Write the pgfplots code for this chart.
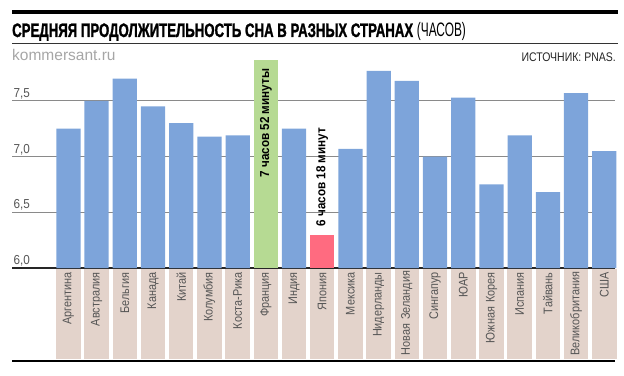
\documentclass[border=0pt]{standalone}
\usepackage{pgfplots}
\pgfplotsset{compat=1.18}
\usepackage{fontspec}
\setmainfont{Liberation Sans}
\newfontfamily\condfont[FakeStretch=0.61]{Liberation Sans}
\newfontfamily\srcfont[FakeStretch=0.84]{Liberation Sans}
\newfontfamily\heavycond[FakeStretch=0.677,FakeBold=1.2]{Liberation Sans Bold}
\newfontfamily\semicond[FakeStretch=0.9]{Liberation Sans}
\newfontfamily\labfont[FakeStretch=0.87]{Liberation Sans}
\definecolor{barblue}{HTML}{7DA4DA}
\definecolor{bargreen}{HTML}{B6DA93}
\definecolor{barred}{HTML}{FF6B80}
\definecolor{tan}{HTML}{E3D3CB}
\definecolor{gridgray}{HTML}{8A8A8A}
\definecolor{labgray}{HTML}{555555}
\pgfplotstableread{
x y
0 7.25
1 7.50
2 7.70
3 7.45
4 7.30
5 7.18
6 7.19
8 7.25
10 7.07
11 7.77
12 7.68
13 7.00
14 7.53
15 6.75
16 7.19
17 6.68
18 7.57
19 7.05
}\bluedata
\pgfplotstableread{
x y
7 7.867
}\greendata
\pgfplotstableread{
x y
9 6.30
}\reddata
\begin{document}
\begin{tikzpicture}[x=1pt,y=1pt]
\path[use as bounding box] (0,0) rectangle (624,375);
% header
\draw[black,line width=3.5pt] (12,363) -- (618,363);
\node[anchor=base west,inner sep=0] at (12,338) {\fontsize{19.5}{21}\heavycond СРЕДНЯЯ ПРОДОЛЖИТЕЛЬНОСТЬ СНА В РАЗНЫХ СТРАНАХ \condfont(ЧАСОВ)};
\draw[black!80,line width=1pt] (12,331) -- (618,331);
\node[anchor=base west,inner sep=0,text=black!35] at (12,314) {\fontsize{15.5}{17}\selectfont kommersant.ru};
\node[anchor=base east,inner sep=0,text=black!85] at (616,313) {\fontsize{12.5}{14}\srcfont ИСТОЧНИК: PNAS.};
\draw[black,line width=2pt] (12,14) -- (615,14);
\begin{axis}[
  at={(12pt,107pt)}, anchor=south west,
  scale only axis, width=603pt, height=211.7pt,
  xmin=-2.0, xmax=19.38, ymin=6, ymax=7.9,
  clip=false,
  axis x line*=bottom, axis y line*=left,
  x axis line style={black!85,line width=1.3pt,-},
  y axis line style={draw=none},
  major tick length=0pt,
  ytick={6,6.5,7,7.5},
  ymajorgrids, grid style={gridgray,line width=1pt},
  /pgf/number format/assume math mode=true,
  yticklabel style={anchor=south west,inner sep=1.5pt,font=\fontsize{13}{14}\semicond,text=labgray,xshift=0pt},
  /pgf/number format/.cd, fixed, fixed zerofill, precision=1, use comma, /pgfplots/.cd,
  xtick={0,...,19},
  xticklabels={Аргентина,Австралия,Бельгия,Канада,Китай,Колумбия,Коста-Рика,Франция,Индия,Япония,Мексика,Нидерланды,Новая~Зеландия,Сингапур,ЮАР,Южная~Корея,Испания,Тайвань,Великобритания,США},
  xticklabel shift=0.7pt,
  xticklabel style={rotate=90,anchor=east,inner xsep=3.5pt,inner ysep=0pt,
    text width=83pt, align=right, minimum height=24.5pt, fill=tan,
    font=\fontsize{12.5}{13}\labfont,text=labgray},
  ybar, bar width=0.86,
]
\addplot[draw=none,fill=barblue,bar shift=0pt] table[x=x,y=y]{\bluedata};
\addplot[draw=none,fill=bargreen,bar shift=0pt] table[x=x,y=y]{\greendata};
\addplot[draw=none,fill=barred,bar shift=0pt] table[x=x,y=y]{\reddata};
\node[rotate=90,anchor=east,inner sep=0,font=\fontsize{13}{14}\semicond\bfseries] at (axis cs:7,7.79) {7 часов 52 минуты};
\node[rotate=90,anchor=east,inner sep=0,font=\fontsize{13}{14}\semicond\bfseries] at (axis cs:9,7.26) {6 часов 18 минут};
\end{axis}
\end{tikzpicture}
\end{document}
